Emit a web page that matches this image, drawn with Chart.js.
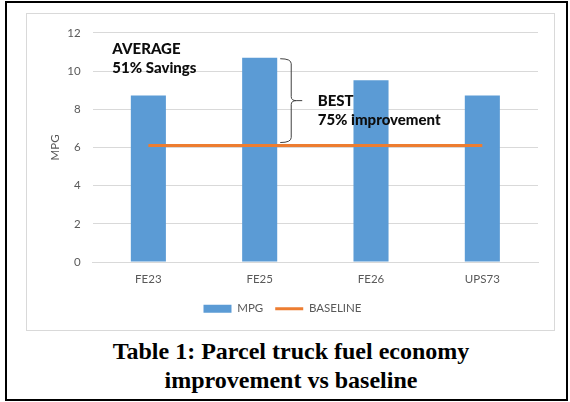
<!DOCTYPE html>
<html>
<head>
<meta charset="utf-8">
<script src="https://cdn.jsdelivr.net/npm/chart.js@4"></script>
<style>
    html, body { margin: 0; padding: 0; background: #fff; }
    body { width: 570px; height: 402px; position: relative; overflow: hidden; }
    #frame {
        position: absolute; left: 5px; top: 1px; width: 563px; height: 400px;
        border: 2px solid #000; box-sizing: border-box;
    }
    #chartBox {
        position: absolute; left: 26px; top: 13px; width: 529px; height: 318px;
        border: 1px solid #d9d9d9; box-sizing: border-box;
    }
    #chartBox canvas { display: block; }
    #caption {
        position: absolute; left: 26px; top: 337px; width: 530px;
        text-align: center; color: #000;
        font-family: "Liberation Serif", "Times New Roman", serif;
        font-weight: bold; font-size: 24px; line-height: 29px;
    }
</style>
</head>
<body>
<div id="frame"></div>
<div id="chartBox">
    <canvas id="mpgChart" width="526" height="315"></canvas>
</div>
<div id="caption">Table 1: Parcel truck fuel economy<br>improvement vs baseline</div>

<script>
// Chart data
const trucks = ["FE23", "FE25", "FE26", "UPS73"];
const mpgValues = [8.72, 10.7, 9.52, 8.72];
const baselineValues = [6.1, 6.1, 6.1, 6.1];
const yTicks = [0, 2, 4, 6, 8, 10, 12];

// Callout texts
const averageNote = ["AVERAGE", "51% Savings"];
const bestNote = ["BEST", "75% improvement"];

const tickFont = { family: "Lato", size: 11.5 };
const tickColor = "#595959";

// Draws the text callouts and the brace next to the best bar
const calloutPlugin = {
    id: "callouts",
    afterDatasetsDraw(chart) {
        const { ctx, scales: { x, y } } = chart;
        ctx.save();
        ctx.font = "900 15px Lato";
        ctx.fillStyle = "#0d0d0d";
        ctx.textBaseline = "middle";
        ctx.textAlign = "left";

        const avgX = x.getPixelForValue(0) - 36;
        ctx.fillText(averageNote[0], avgX, y.getPixelForValue(11.15));
        ctx.fillText(averageNote[1], avgX, y.getPixelForValue(10.15));

        const bestX = x.getPixelForValue(1) + 58;
        ctx.fillText(bestNote[0], bestX, y.getPixelForValue(8.45));
        ctx.fillText(bestNote[1], bestX, y.getPixelForValue(7.45));

        // Brace from top of the best bar down to the baseline
        const bar = chart.getDatasetMeta(0).data[1];
        const x0 = bar.x + bar.width / 2 + 3;
        const xv = x0 + 11;
        const xt = x0 + 22;
        const top = y.getPixelForValue(mpgValues[1]) + 1;
        const bottom = y.getPixelForValue(baselineValues[1]) - 3;
        const mid = (top + bottom) / 2;

        ctx.strokeStyle = "#404040";
        ctx.lineWidth = 1;
        ctx.beginPath();
        ctx.moveTo(x0, top);
        ctx.quadraticCurveTo(xv, top, xv, top + 5);
        ctx.lineTo(xv, mid - 4);
        ctx.quadraticCurveTo(xv, mid, xv + 5, mid);
        ctx.lineTo(xt, mid);
        ctx.moveTo(xv + 5, mid);
        ctx.quadraticCurveTo(xv, mid, xv, mid + 4);
        ctx.lineTo(xv, bottom - 5);
        ctx.quadraticCurveTo(xv, bottom, x0, bottom);
        ctx.stroke();
        ctx.restore();
    }
};

function initializeChart() {
    const ctx = document.getElementById("mpgChart");

    new Chart(ctx, {
        type: "bar",
        data: {
            labels: trucks,
            datasets: [
                {
                    label: "MPG",
                    data: mpgValues,
                    backgroundColor: "#5B9BD5",
                    borderWidth: 0,
                    barPercentage: 0.315,
                    categoryPercentage: 1,
                    pointStyle: "rect",
                    order: 1
                },
                {
                    type: "line",
                    label: "BASELINE",
                    data: baselineValues,
                    borderColor: "#ED7D31",
                    backgroundColor: "#ED7D31",
                    borderWidth: 3,
                    pointRadius: 0,
                    pointStyle: "line",
                    fill: false,
                    order: 0
                }
            ]
        },
        options: {
            responsive: false,
            animation: false,
            layout: {
                padding: { top: 15, right: 15, bottom: 4.5, left: 0 }
            },
            plugins: {
                legend: {
                    position: "bottom",
                    labels: {
                        color: tickColor,
                        font: tickFont,
                        usePointStyle: true,
                        pointStyleWidth: 28,
                        boxHeight: 8,
                        padding: 12,
                        sort: (a, b) => a.datasetIndex - b.datasetIndex
                    }
                },
                tooltip: { enabled: false }
            },
            scales: {
                x: {
                    grid: { display: false, drawTicks: false },
                    border: { color: "#d9d9d9" },
                    ticks: { color: tickColor, font: tickFont, padding: 10.5 },
                    afterFit(scale) { scale.height = 29; }
                },
                y: {
                    min: 0,
                    max: 12,
                    afterBuildTicks(scale) {
                        scale.ticks = yTicks.map(v => ({ value: v }));
                    },
                    grid: { color: "#d9d9d9", drawTicks: false },
                    border: { display: false },
                    ticks: { color: tickColor, font: tickFont, padding: 12 },
                    title: {
                        display: true,
                        text: "MPG",
                        color: tickColor,
                        font: tickFont,
                        padding: { top: 21, bottom: 0 }
                    },
                    afterFit(scale) { scale.width = 65.7; }
                }
            }
        },
        plugins: [calloutPlugin]
    });
}

document.addEventListener("DOMContentLoaded", initializeChart);
</script>
</body>
</html>
